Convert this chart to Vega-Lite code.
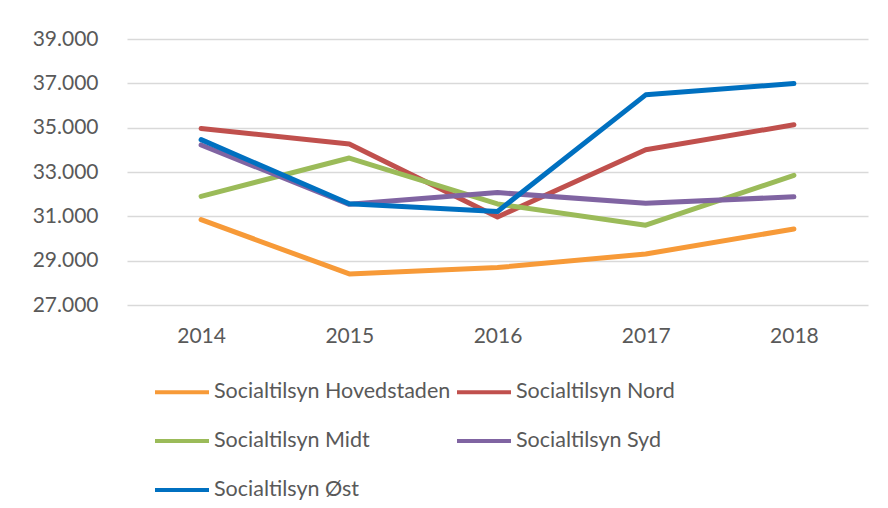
{
  "$schema": "https://vega.github.io/schema/vega-lite/v6.json",
  "width": 741,
  "height": 266,
  "autosize": {"type": "none"},
  "padding": {"left": 127, "top": 39, "right": 20, "bottom": 203},
  "background": "white",
  "data": {
    "values": [
      {"year": "2014", "series": "Socialtilsyn Hovedstaden", "value": 30850},
      {"year": "2015", "series": "Socialtilsyn Hovedstaden", "value": 28400},
      {"year": "2016", "series": "Socialtilsyn Hovedstaden", "value": 28690},
      {"year": "2017", "series": "Socialtilsyn Hovedstaden", "value": 29300},
      {"year": "2018", "series": "Socialtilsyn Hovedstaden", "value": 30430},
      {"year": "2014", "series": "Socialtilsyn Nord", "value": 34960},
      {"year": "2015", "series": "Socialtilsyn Nord", "value": 34260},
      {"year": "2016", "series": "Socialtilsyn Nord", "value": 30970},
      {"year": "2017", "series": "Socialtilsyn Nord", "value": 34000},
      {"year": "2018", "series": "Socialtilsyn Nord", "value": 35130},
      {"year": "2014", "series": "Socialtilsyn Midt", "value": 31900},
      {"year": "2015", "series": "Socialtilsyn Midt", "value": 33630},
      {"year": "2016", "series": "Socialtilsyn Midt", "value": 31560},
      {"year": "2017", "series": "Socialtilsyn Midt", "value": 30600},
      {"year": "2018", "series": "Socialtilsyn Midt", "value": 32850},
      {"year": "2014", "series": "Socialtilsyn Syd", "value": 34220},
      {"year": "2015", "series": "Socialtilsyn Syd", "value": 31540},
      {"year": "2016", "series": "Socialtilsyn Syd", "value": 32070},
      {"year": "2017", "series": "Socialtilsyn Syd", "value": 31590},
      {"year": "2018", "series": "Socialtilsyn Syd", "value": 31880},
      {"year": "2014", "series": "Socialtilsyn Øst", "value": 34460},
      {"year": "2015", "series": "Socialtilsyn Øst", "value": 31570},
      {"year": "2016", "series": "Socialtilsyn Øst", "value": 31220},
      {"year": "2017", "series": "Socialtilsyn Øst", "value": 36480},
      {"year": "2018", "series": "Socialtilsyn Øst", "value": 36990}
    ]
  },
  "mark": {"type": "line", "strokeWidth": 5, "strokeCap": "round", "strokeJoin": "round"},
  "encoding": {
    "x": {
      "field": "year",
      "type": "ordinal",
      "scale": {"type": "point", "padding": 0.5},
      "axis": {
        "title": null,
        "labelAngle": 0,
        "ticks": false,
        "domain": false,
        "grid": false,
        "labelPadding": 20,
        "labelFontSize": 21,
        "labelColor": "#595959",
        "labelFont": "Lato"
      }
    },
    "y": {
      "field": "value",
      "type": "quantitative",
      "scale": {"domain": [27000, 39000], "nice": false, "zero": false},
      "axis": {
        "title": null,
        "values": [27000, 29000, 31000, 33000, 35000, 37000, 39000],
        "labelExpr": "replace(format(datum.value, ','), ',', '.')",
        "ticks": false,
        "domain": false,
        "gridColor": "#D9D9D9",
        "gridWidth": 1.5,
        "labelPadding": 29,
        "labelFontSize": 21,
        "labelColor": "#595959",
        "labelFont": "Lato"
      }
    },
    "color": {
      "field": "series",
      "type": "nominal",
      "sort": ["Socialtilsyn Hovedstaden", "Socialtilsyn Nord", "Socialtilsyn Midt", "Socialtilsyn Syd", "Socialtilsyn Øst"],
      "scale": {
        "domain": ["Socialtilsyn Hovedstaden", "Socialtilsyn Nord", "Socialtilsyn Midt", "Socialtilsyn Syd", "Socialtilsyn Øst"],
        "range": ["#F79A38", "#C0504D", "#9BBB59", "#8064A2", "#0070C0"]
      },
      "legend": {
        "title": null,
        "orient": "none",
        "legendX": 26,
        "legendY": 324,
        "columns": 2,
        "direction": "horizontal",
        "symbolType": "stroke",
        "symbolSize": 2916,
        "symbolStrokeWidth": 4,
        "labelFontSize": 21.5,
        "labelFont": "Lato",
        "labelColor": "#595959",
        "labelOffset": 3,
        "labelLimit": 400,
        "rowPadding": 9,
        "columnPadding": -2
      }
    }
  },
  "config": {"view": {"stroke": null}}
}
